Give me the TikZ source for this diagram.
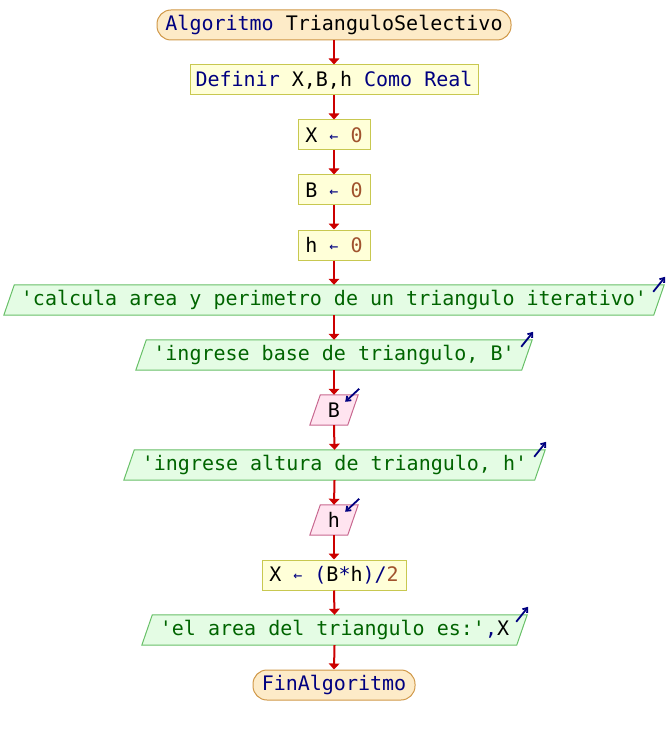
\documentclass[tikz,border=0pt]{standalone}
\usepackage{fontspec}
\setmonofont{DejaVu Sans Mono}
\usetikzlibrary{arrows.meta,calc}
\pgfdeclarelayer{bg}
\pgfsetlayers{bg,main}
\definecolor{kw}{HTML}{000080}
\definecolor{strc}{HTML}{006400}
\definecolor{numc}{HTML}{A0522D}
\definecolor{termfill}{HTML}{FDEBC8}
\definecolor{termdraw}{HTML}{D09848}
\definecolor{procfill}{HTML}{FFFFD8}
\definecolor{procdraw}{HTML}{C8C850}
\definecolor{outfill}{HTML}{E4FCE4}
\definecolor{outdraw}{HTML}{68C068}
\definecolor{infill}{HTML}{FFE4F0}
\definecolor{indraw}{HTML}{C86890}
\definecolor{flow}{HTML}{CC0000}
\newcommand{\kw}[1]{\textcolor{kw}{#1}}
\newcommand{\strtx}[1]{\textcolor{strc}{#1}}
\newcommand{\nm}[1]{\textcolor{numc}{#1}}
\newcommand{\asg}{\textcolor{kw}{\fontsize{15}{15}\selectfont\raisebox{1pt}{←}}}
\newcommand{\drawpara}[3]{%
  \begin{pgfonlayer}{bg}
  \path[fill=#2,draw=#3,line width=1pt] (#1.south west) -- ([xshift=10.5pt]#1.north west) -- (#1.north east) -- ([xshift=-10.5pt]#1.south east) -- cycle;
  \end{pgfonlayer}}
\begin{document}
\begin{tikzpicture}[x=1pt,y=-1pt,
  base/.style={inner sep=0pt,minimum height=30pt,align=center,font=\ttfamily\fontsize{20}{24}\selectfont},
  term/.style={base,draw=termdraw,fill=termfill,line width=1pt,rounded corners=14pt},
  proc/.style={base,draw=procdraw,fill=procfill,line width=1pt},
  para/.style={base},
  flowline/.style={draw=flow,line width=2pt,-{Triangle[width=10.5pt,length=6pt]}},
  outmark/.style={draw=kw,line width=1.8pt,-{Straight Barb[length=4pt,width=6pt]}}]
\useasboundingbox (0,0) rectangle (668,735);
\node[term,minimum width=354pt] (start) at (334,25) {\kw{Algoritmo} TrianguloSelectivo};
\node[proc,minimum width=288pt] (def) at (334,80) {\kw{Definir} X,B,h \kw{Como Real}};
\node[proc,minimum width=72pt] (x0) at (334,135) {X \asg{} \nm{0}};
\node[proc,minimum width=72pt] (b0) at (334,190) {B \asg{} \nm{0}};
\node[proc,minimum width=72pt] (h0) at (334,245) {h \asg{} \nm{0}};
\node[para,minimum width=660pt] (o1) at (334,300) {\strtx{'calcula area y perimetro de un triangulo iterativo'}};
\node[para,minimum width=396pt] (o2) at (334,355) {\strtx{'ingrese base de triangulo, B'}};
\node[para,minimum width=48pt] (iB) at (334,410) {B};
\node[para,minimum width=421pt] (o3) at (334.5,465) {\strtx{'ingrese altura de triangulo, h'}};
\node[para,minimum width=48pt] (iH) at (334,520) {h};
\node[proc,minimum width=144pt] (px) at (334,575) {X \asg{} \kw{(}B\kw{*}h\kw{)/}\nm{2}};
\node[para,minimum width=385pt] (o4) at (334.5,630) {\strtx{'el area del triangulo es:'}\kw{,}X};
\node[term,minimum width=162pt] (fin) at (334,685) {\kw{FinAlgoritmo}};
\drawpara{o1}{outfill}{outdraw}
\drawpara{o2}{outfill}{outdraw}
\drawpara{o3}{outfill}{outdraw}
\drawpara{o4}{outfill}{outdraw}
\drawpara{iB}{infill}{indraw}
\drawpara{iH}{infill}{indraw}
\foreach \a/\b in {start/def,def/x0,x0/b0,b0/h0,h0/o1,o1/o2,o2/iB,iB/o3,o3/iH,iH/px,px/o4,o4/fin}
  \draw[flowline] (\a.south) -- (\b.north);
\foreach \n in {o1,o2,o3,o4}
  \draw[outmark] ($(\n.north east)+(-11,7)$) -- ($(\n.north east)+(1,-8)$);
\foreach \n in {iB,iH}
  \draw[outmark] ($(\n.north east)+(1,-6)$) -- ($(\n.north east)+(-13,7)$);
\end{tikzpicture}
\end{document}
